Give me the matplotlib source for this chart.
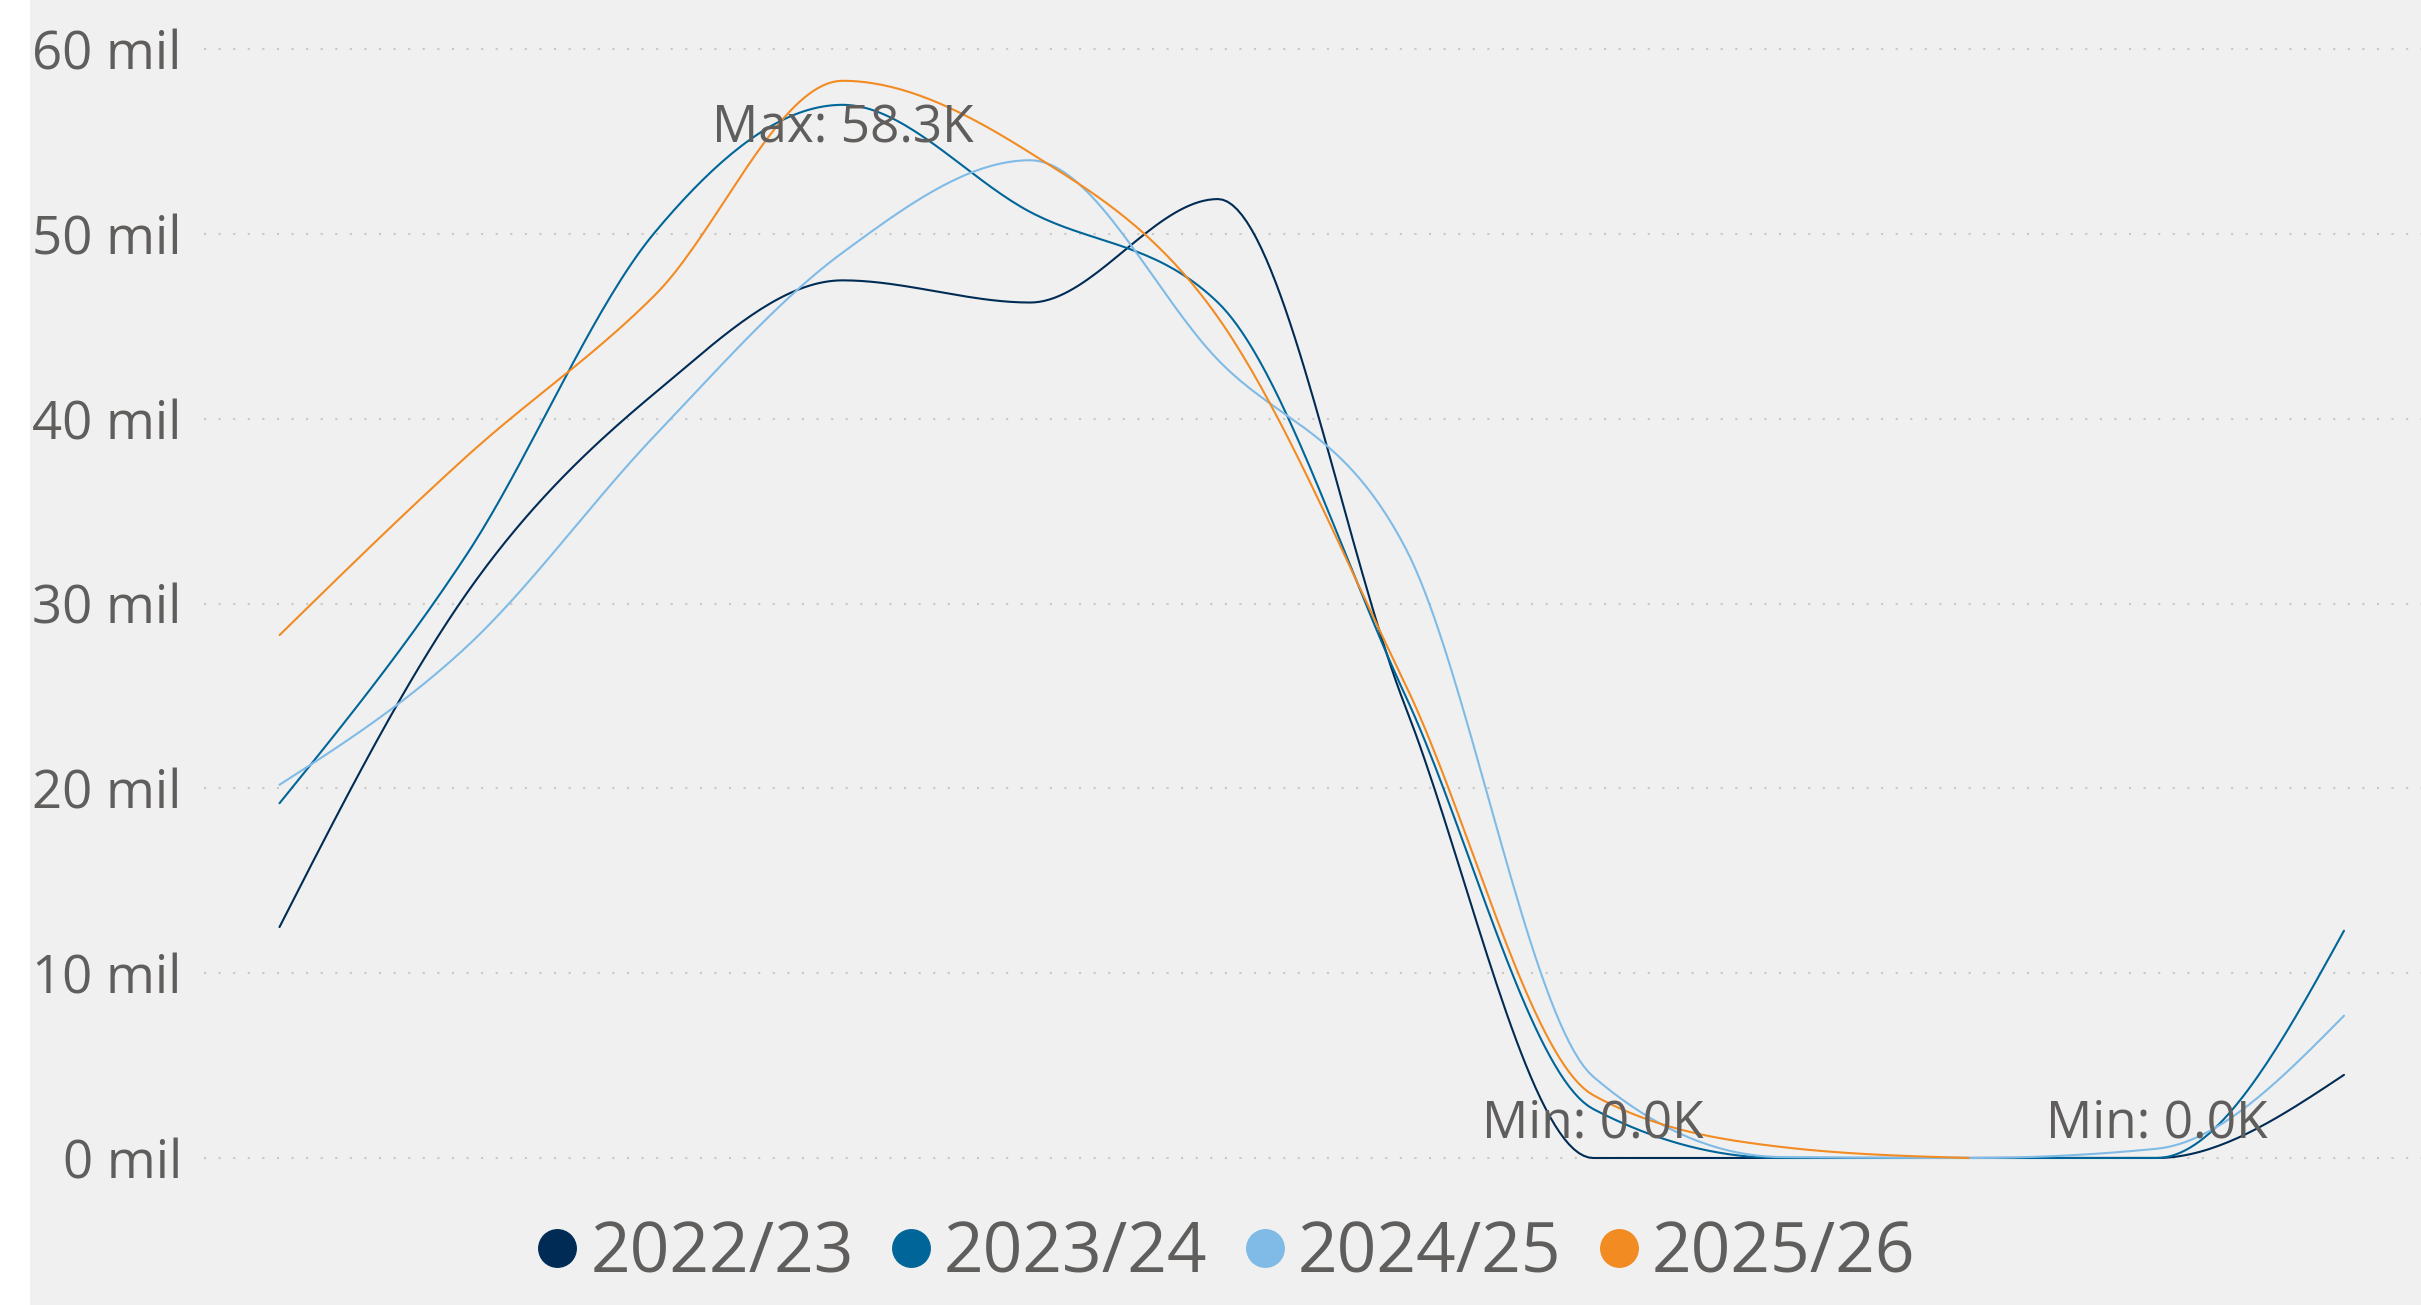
"""
Seasonal volumes per season, smooth monotone lines in Power BI style
"""
import matplotlib
matplotlib.use("Agg")
import matplotlib.pyplot as plt
import numpy as np
from matplotlib.lines import Line2D
from matplotlib.patches import Rectangle

# data (thousands), 12 periods per season
periods = np.arange(12)
seasons = ["2022/23", "2023/24", "2024/25", "2025/26"]
s_2022 = [12.5, 30.6, 41.4, 47.5, 46.3, 51.9, 24.4, 0.0, 0.0, 0.0, 0.0, 4.5]
s_2023 = [19.2, 32.7, 50.1, 57.0, 51.2, 46.3, 25.0, 2.65, 0.0, 0.0, 0.0, 12.3]
s_2024 = [20.2, 27.7, 39.1, 49.0, 54.0, 43.2, 33.0, 4.4, 0.05, 0.0, 0.5, 7.7]
s_2025 = [28.3, 38.0, 46.7, 58.3, 54.4, 45.5, 25.6, 3.4, 0.6, 0.0, np.nan, np.nan]
series = [s_2022, s_2023, s_2024, s_2025]
colors = ["#002B55", "#006699", "#7FBBE6", "#F28B22"]
yticks = [0, 10, 20, 30, 40, 50, 60]
ytick_labels = [f"{v} mil" for v in yticks]

# (season index, period, prefix)
labels = [(3, 3, "Max"), (0, 7, "Min"), (0, 10, "Min")]

TEXT = "#605E5C"
BG = "#F0F0F0"
FONT = "Open Sans"


def monotone(x, y, n=40):
    """Steffen monotone cubic (like d3.curveMonotoneX)"""
    x = np.asarray(x, float)
    y = np.asarray(y, float)
    h = np.diff(x)
    s = np.diff(y) / h
    t = np.zeros_like(y)
    for i in range(1, len(y) - 1):
        p = (s[i - 1] * h[i] + s[i] * h[i - 1]) / (h[i - 1] + h[i])
        t[i] = (np.sign(s[i - 1]) + np.sign(s[i])) * min(abs(s[i - 1]), abs(s[i]), 0.5 * abs(p))
    if len(y) > 2:
        t[0] = (3 * s[0] - t[1]) / 2
        t[-1] = (3 * s[-1] - t[-2]) / 2
    else:
        t[:] = s[0]
    xs, ys = [], []
    for i in range(len(y) - 1):
        u = np.linspace(0, 1, n)
        h00 = 2 * u**3 - 3 * u**2 + 1
        h10 = u**3 - 2 * u**2 + u
        h01 = -2 * u**3 + 3 * u**2
        h11 = u**3 - u**2
        xs.append(x[i] + u * h[i])
        ys.append(h00 * y[i] + h10 * h[i] * t[i] + h01 * y[i + 1] + h11 * h[i] * t[i + 1])
    return np.concatenate(xs), np.concatenate(ys)


fig = plt.figure(figsize=(24.21, 13.05), dpi=100)
fig.patch.set_facecolor("white")
fig.patches.append(Rectangle((30 / 2421, 0), 1, 1, transform=fig.transFigure,
                             facecolor=BG, edgecolor="none", zorder=-5))

W, H = 2421, 1305
left, right, top, bottom = 204, 2421, 40, 1180
ax = fig.add_axes([left / W, 1 - bottom / H, (right - left) / W, (bottom - top) / H])
ax.set_facecolor("none")
ax.set_zorder(2)

for vals, col in zip(series, colors):
    v = np.asarray(vals, float)
    ok = ~np.isnan(v)
    xs, ys = monotone(periods[ok], v[ok])
    ax.plot(xs, ys, color=col, linewidth=1.5, zorder=3, solid_capstyle="round")

for si, idx, prefix in labels:
    val = series[si][idx]
    if prefix == "Max":
        off = -44.6
    else:
        off = 15
    ax.annotate(f"{prefix}: {val:.1f}K", (periods[idx], val), xytext=(0, off),
                textcoords="offset points", ha="center", va="baseline",
                fontsize=37, color=TEXT, family=FONT, zorder=5)

# x range: first point at 279.5 px, last at 2344 px
unit = (2344 - 279.5) / 11
ax.set_xlim(-(279.5 - left) / unit, 11 + (right - 2344) / unit)
ppm = (1158 - 49.4) / 60
ax.set_ylim(-(bottom - 1158) / ppm, 60 + (49.4 - top) / ppm)

ax.set_yticks(yticks)
ax.set_yticklabels(ytick_labels, family=FONT, fontsize=38, color=TEXT)
ax.tick_params(axis="y", length=0, pad=16)
ax.set_xticks([])
for lab in ax.get_yticklabels():
    lab.set_verticalalignment("center_baseline")
ax.grid(axis="y", color="#C8C8C8", linewidth=1.5, linestyle=(0, (1, 6)), zorder=1)
for spine in ax.spines.values():
    spine.set_visible(False)

handles = [Line2D([], [], marker="o", linestyle="none", markersize=27,
                  markerfacecolor=c, markeredgecolor=c) for c in colors]
leg = fig.legend(handles, seasons, loc="center", bbox_to_anchor=(0.506, 0.039),
                 ncol=4, frameon=False, handlelength=0.65, handletextpad=0.15,
                 columnspacing=0.5, borderaxespad=0,
                 prop={"family": FONT, "size": 50})
for t in leg.get_texts():
    t.set_color(TEXT)

fig.savefig("out.png", dpi=100, facecolor=fig.get_facecolor())
plt.close(fig)
